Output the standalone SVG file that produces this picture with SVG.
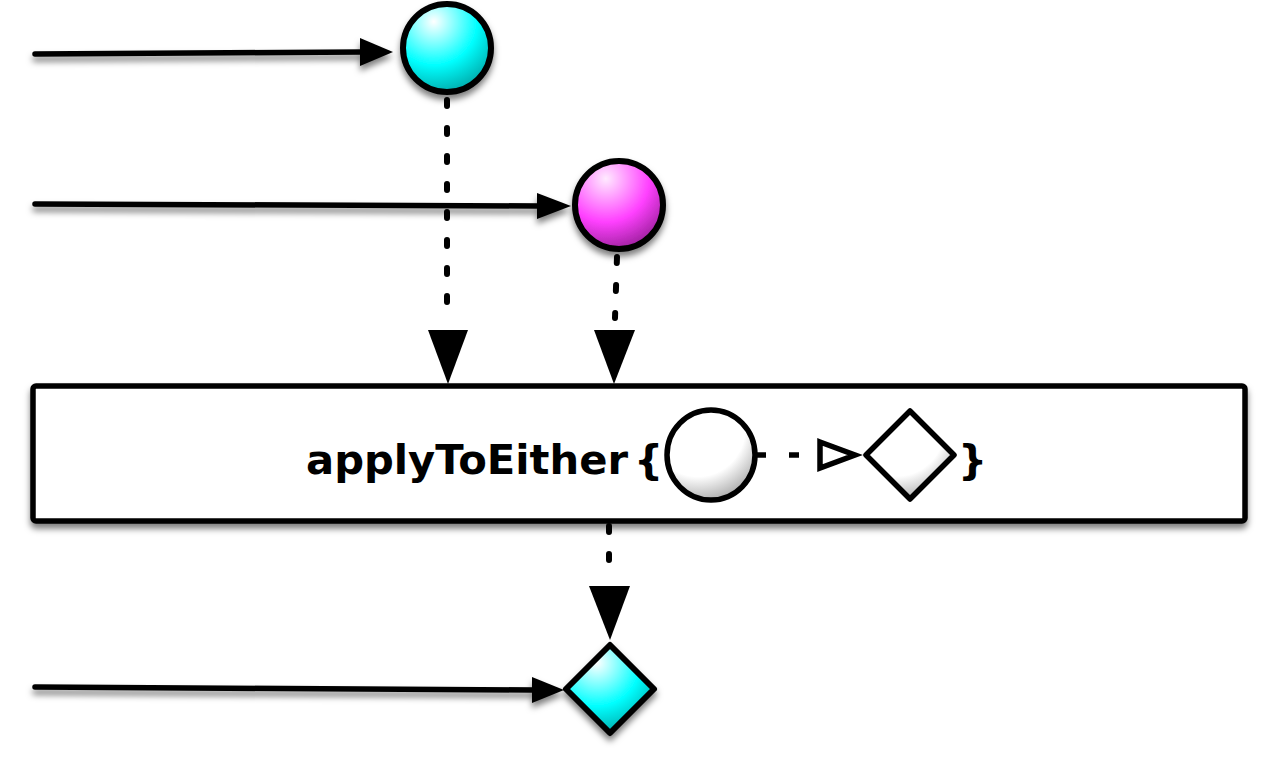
<svg xmlns="http://www.w3.org/2000/svg" width="1280" height="760" viewBox="0 0 1280 760">
<defs>
<filter id="sh" x="-20%" y="-20%" width="140%" height="160%">
<feDropShadow dx="0" dy="5" stdDeviation="3" flood-color="#000" flood-opacity="0.5"/>
</filter>
<radialGradient id="gc" cx="0.35" cy="0.2" r="0.9">
<stop offset="0" stop-color="#ffffff"/>
<stop offset="0.55" stop-color="#00ffff"/>
<stop offset="1" stop-color="#009a9a"/>
</radialGradient>
<radialGradient id="gm" cx="0.35" cy="0.2" r="0.9">
<stop offset="0" stop-color="#ffeaff"/>
<stop offset="0.55" stop-color="#ff40ff"/>
<stop offset="1" stop-color="#8a1a8a"/>
</radialGradient>
<radialGradient id="gw" cx="0.35" cy="0.2" r="0.9">
<stop offset="0" stop-color="#ffffff"/>
<stop offset="0.6" stop-color="#ffffff"/>
<stop offset="1" stop-color="#999999"/>
</radialGradient>
<style>
.ln{stroke:#000;stroke-width:5.5;fill:none;stroke-linecap:round}
.dt{stroke:#000;stroke-width:6;fill:none;stroke-linecap:round;stroke-dasharray:6 22}
.shape{stroke:#000;stroke-width:6}
.lbl{font-family:"DejaVu Sans",sans-serif;font-weight:bold;font-size:41px;fill:#000}
</style>
</defs>

<g id="connectors">
<g filter="url(#sh)">
<line class="ln" x1="35" y1="54" x2="362" y2="52"/>
<path d="M360,38 L393,52 L360,66 z" fill="#000"/>
<line class="ln" x1="35" y1="204" x2="540" y2="206"/>
<path d="M537,193 L571,206 L537,219 z" fill="#000"/>
<line class="ln" x1="35" y1="687" x2="535" y2="690"/>
<path d="M532,677 L564,690 L532,703 z" fill="#000"/>
</g>
<line class="dt" x1="447" y1="100" x2="447" y2="315"/>
<path d="M428,330 L468,330 L448,384 z" fill="#000"/>
<line class="dt" x1="617" y1="257" x2="615" y2="318"/>
<path d="M594,330 L635,330 L614,384 z" fill="#000"/>
<line class="dt" x1="609" y1="526" x2="609" y2="580"/>
<path d="M589,586 L630,586 L610,640 z" fill="#000"/>
</g>

<g id="node-cyan-circle" filter="url(#sh)">
<circle class="shape" cx="447" cy="48" r="44" fill="url(#gc)"/>
</g>

<g id="node-magenta-circle" filter="url(#sh)">
<circle class="shape" cx="619" cy="205" r="44" fill="url(#gm)"/>
</g>

<g id="node-operator">
<rect x="33" y="386" width="1212" height="135" rx="3" fill="#fff" stroke="#000" stroke-width="5.5" filter="url(#sh)"/>
<text class="lbl" x="306" y="474" textLength="322" lengthAdjust="spacingAndGlyphs">applyToEither</text>
<text class="lbl" x="634" y="474">{</text>
<ellipse cx="711" cy="455" rx="44" ry="45" fill="url(#gw)" stroke="#000" stroke-width="5.5"/>
<line x1="757" y1="455" x2="766" y2="455" stroke="#000" stroke-width="5.5"/>
<line x1="789" y1="455" x2="799" y2="455" stroke="#000" stroke-width="5.5"/>
<path d="M820,442 L855,455 L820,468 z" fill="#fff" stroke="#000" stroke-width="5.5" stroke-linejoin="miter"/>
<path d="M910,411 L954,455 L910,499 L866,455 z" fill="url(#gw)" stroke="#000" stroke-width="5.5" stroke-linejoin="round"/>
<text class="lbl" x="958" y="474">}</text>
</g>

<g id="node-cyan-diamond" filter="url(#sh)">
<path d="M610,645 L654,689 L610,733 L566,689 z" fill="url(#gc)" stroke="#000" stroke-width="6" stroke-linejoin="round"/>
</g>
</svg>
